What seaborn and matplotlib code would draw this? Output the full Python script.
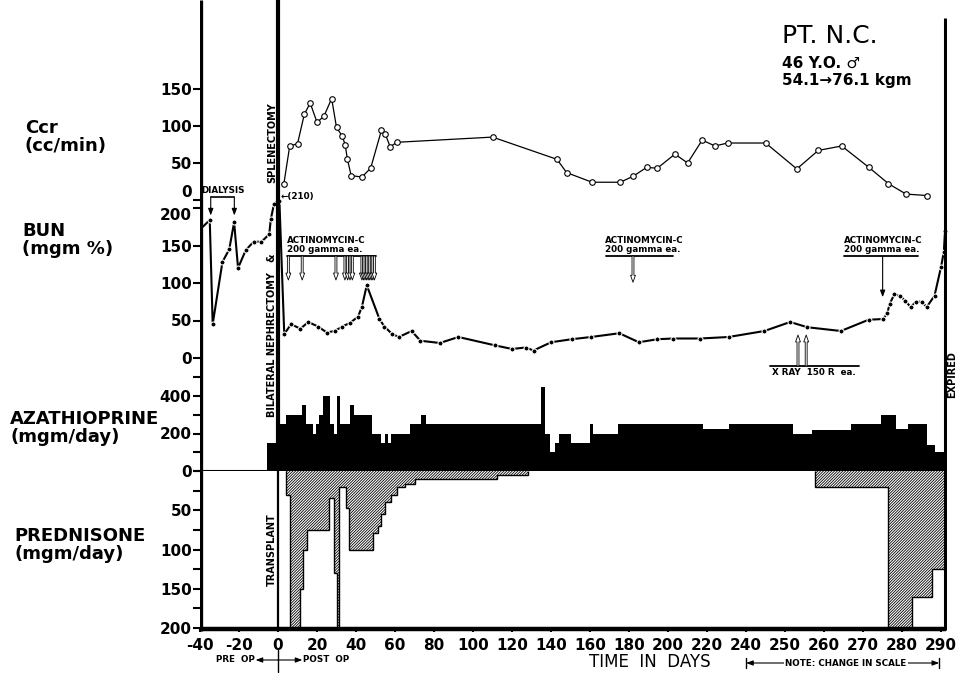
import numpy as np
import matplotlib
matplotlib.use('Agg')
import matplotlib.pyplot as plt
import seaborn as sns

sns.set_style('ticks')
plt.rcParams['font.family'] = ['DejaVu Sans']
plt.rcParams['font.weight'] = 'bold'
plt.rcParams['hatch.linewidth'] = 0.6
for key in ['text.color', 'axes.labelcolor', 'xtick.color', 'ytick.color', 'hatch.color']:
    plt.rcParams[key] = 'black'

###############################################################################
### DATA (days relative to transplant)
###############################################################################
ccr_day = [3, 6, 10, 13.5, 16.5, 20, 23.5, 27.5, 30, 33, 34.5, 35.5, 37.5, 43, 47.5,
           53, 55, 57.5, 61, 110, 143, 148, 161, 175.5, 182, 189, 194.5, 203.5, 210,
           217.5, 224, 230.5, 245, 253, 258.5, 264.5, 271.5, 276.5, 281, 286.5]
ccr_val = [22, 73, 76, 116, 131, 105, 113, 137, 98, 86, 74, 56, 33, 31, 43,
           94, 89, 72, 78, 85, 55, 37, 24, 24, 32, 44, 43, 62, 50,
           81, 73, 77, 77, 42, 67, 73, 44, 22, 8, 6]

bun_day = [-38.5, -35, -33.5, -28.5, -25, -22.5, -20.5, -16.5, -12.5, -8.5, -4.5, -3.7,
           -2, 0.7, 3.2, 6.7, 11.5, 15.5, 20.5, 25, 29, 33, 37, 41, 43, 45.5, 52, 54.5,
           58.5, 62, 68.5, 73, 83, 92.5, 111, 120, 127, 131, 140, 150.5, 160.5, 175,
           185, 194.5, 202.5, 216.5, 231, 244.7, 251.3, 255.7, 264.3, 271.4, 275.2,
           276.2, 276.8, 278, 279.5, 280.8, 282.2, 283.5, 285, 286.3, 288.3, 290, 290.7, 291]
bun_val = [175, 184, 45, 128, 145, 181, 120, 144, 155, 155, 165, 185,
           206, 210, 32, 45, 39, 48, 42, 34, 36, 42, 47, 55, 68, 97, 52, 42,
           32, 28, 36, 23, 20, 28, 17, 12, 14, 10, 21, 25, 28, 33,
           21, 25, 26, 26, 28, 36, 48, 41, 36, 51, 52,
           60, 72, 85, 83, 76, 68, 75, 75, 68, 83, 122, 142, 170]

aza_edges = [-5.5, 0, 4, 12.5, 14.5, 18, 19.5, 21, 23, 26.5, 28.5, 30, 32, 37, 39, 48, 53,
             55, 56.5, 58, 67.5, 73.5, 76, 135, 137, 139.5, 142, 144, 150, 160, 161.5,
             174.5, 218, 231, 252, 257, 267, 274.5, 278.5, 281.5, 286.5, 288.5, 291]
aza_dose = [150, 250, 300, 350, 250, 200, 250, 300, 400, 250, 200, 400, 250, 350, 300, 200,
            150, 200, 150, 200, 250, 300, 250, 450, 200, 100, 150, 200, 150, 250, 200,
            250, 225, 250, 200, 220, 250, 300, 225, 250, 140, 100]

pred_edges_1 = [4.3, 6.2, 11.5, 13, 15, 26.3, 28.9, 30, 31.5, 35, 36.5, 48.5, 51.5, 53,
                54.7, 58, 61, 65, 70, 112.5, 128]
pred_dose_1 = [30, 200, 150, 100, 75, 35, 130, 200, 20, 47, 100, 79, 70, 55, 40, 30, 20,
               17, 10, 5]
pred_edges_2 = [257.7, 276.3, 282.5, 287.6, 291.2]
pred_dose_2 = [20, 200, 160, 125]

actino_days_1 = [5.3, 12.4, 29.7, 34.3, 35.7, 36.9, 38.1, 43, 43.8, 44.6, 45.4, 46.2,
                 47, 47.8, 48.6, 49.4]
actino_day_2 = 182
actino_day_3 = 275
xray_days = [253.3, 255.4]
dialysis_days = [-34.5, -22.4]

x_ticks = [-40, -20, 0, 20, 40, 60, 80, 100, 120, 140, 160, 180, 200, 220, 240,
           250, 260, 270, 280, 290]
transplant_day = 0
expired_day = 291


###############################################################################
### LAYOUT HELPERS
###############################################################################
def fwd(d):
    d = np.asarray(d, dtype=float)
    return np.where(d <= 240, d, 240 + 2 * (d - 240))


def inv(u):
    u = np.asarray(u, dtype=float)
    return np.where(u <= 240, u, 240 + (u - 240) / 2)


W, H = 958, 673
fig = plt.figure(figsize=(W / 100, H / 100), dpi=100)


def fy(py):
    return 1 - py / H


L, R = 200 / W, 947 / W
XMIN, XMAX = -40, 291.5


def panel(y_top, y_bot):
    ax = fig.add_axes([L, fy(y_bot), R - L, (y_bot - y_top) / H])
    ax.set_xscale('function', functions=(fwd, inv))
    ax.patch.set_alpha(0)
    for s in ax.spines.values():
        s.set_visible(False)
    return ax


def style_y(ax):
    ax.set_xlim(XMIN, XMAX)
    ax.set_xticks([])
    ax.set_xlabel('')
    ax.set_ylabel('')
    ax.tick_params(axis='y', which='both', left=True, direction='out', length=5,
                   width=1.5, labelsize=11, pad=1)


ax_ccr = panel(52, 200)
ax_bun = panel(196.75, 376.75)
ax_aza = panel(377.25, 471)
ax_pred = panel(471, 628)

# Ccr
sns.lineplot(x=ccr_day, y=ccr_val, ax=ax_ccr, color='black', linewidth=0.9, marker='o',
             markersize=4, markerfacecolor='white', markeredgecolor='black',
             markeredgewidth=0.8, sort=False, estimator=None)
ax_ccr.set_ylim(0, 200)
style_y(ax_ccr)
ax_ccr.set_yticks([0, 50, 100, 150])
ax_ccr.get_yticklabels()[0].set_va('bottom')

# BUN
sns.lineplot(x=bun_day, y=bun_val, ax=ax_bun, color='black', linewidth=1.5, marker='o',
             markersize=3.6, markevery=list(range(1, len(bun_day))),
             sort=False, estimator=None)
ax_bun.set_ylim(-25, 215)
style_y(ax_bun)
ax_bun.set_yticks([0, 50, 100, 150, 200])
ax_bun.set_yticks([-25], minor=True)
ax_bun.get_yticklabels()[-1].set_va('top')

# azathioprine
ax_aza.stairs(aza_dose, aza_edges, baseline=0, fill=True, color='black')
ax_aza.axhline(0, color='black', lw=1.5)
ax_aza.set_ylim(0, 500)
style_y(ax_aza)
ax_aza.set_yticks([0, 200, 400])
ax_aza.set_yticks([100, 300], minor=True)

# prednisone (axis runs downward)
for edges, dose in [(pred_edges_1, pred_dose_1), (pred_edges_2, pred_dose_2)]:
    ax_pred.stairs(dose, edges, baseline=0, fill=True, facecolor='white',
                   edgecolor='black', hatch='/' * 12, lw=0)
    ax_pred.stairs(dose, edges, baseline=0, fill=False, color='black', lw=1)
ax_pred.set_ylim(200, 0)
style_y(ax_pred)
ax_pred.set_yticks([0, 50, 100, 150, 200])
ax_pred.set_yticklabels(['', '50', '100', '150', '200'])
ax_pred.set_yticks([25, 75, 125, 175], minor=True)
ax_pred.set_xticks(x_ticks)
ax_pred.set_xticklabels([str(t) for t in x_ticks])
ax_pred.tick_params(axis='x', bottom=True, direction='out', length=3, width=1.5,
                    labelsize=11, pad=4)

# --- BUN panel annotations
small = dict(fontsize=6.3, fontweight='bold')
dbl = dict(arrowstyle='simple,head_width=0.35,head_length=0.5,tail_width=0.14',
           fc='white', ec='black', lw=0.6, shrinkA=0, shrinkB=0)
one = dict(arrowstyle='-|>,head_width=0.15,head_length=0.4', color='black', lw=0.8,
           shrinkA=0, shrinkB=0)

ax_bun.text(4.5, 139, 'ACTINOMYCIN-C\n200 gamma ea.', va='bottom', linespacing=1.0, **small)
ax_bun.plot([4.8, 50], [136, 136], color='black', lw=1.3)
for d in actino_days_1:
    ax_bun.annotate('', xy=(d, 104), xytext=(d, 136), arrowprops=dbl)

ax_bun.text(167.5, 139, 'ACTINOMYCIN-C\n200 gamma ea.', va='bottom', linespacing=1.0, **small)
ax_bun.plot([168, 202.5], [136, 136], color='black', lw=1.3)
ax_bun.annotate('', xy=(actino_day_2, 101), xytext=(actino_day_2, 136), arrowprops=dbl)

ax_bun.text(265, 139, 'ACTINOMYCIN-C\n200 gamma ea.', va='bottom', linespacing=1.0, **small)
ax_bun.plot([265, 284], [136, 136], color='black', lw=1.3)
ax_bun.annotate('', xy=(actino_day_3, 81), xytext=(actino_day_3, 136), arrowprops=one)

ax_bun.plot([246, 269], [-10.7, -10.7], color='black', lw=1.3)
for d in xray_days:
    ax_bun.annotate('', xy=(d, 30.7), xytext=(d, -10.7), arrowprops=dbl)
ax_bun.text(257.5, -13, 'X RAY  150 R  ea.', ha='center', va='top', clip_on=False, **small)

ax_bun.plot([dialysis_days[0], dialysis_days[1]], [214.7, 214.7], color='black', lw=1.2,
            clip_on=False)
for d in dialysis_days:
    ax_bun.annotate('', xy=(d, 190), xytext=(d, 214.7), arrowprops=one,
                    annotation_clip=False)
ax_bun.text(-28, 218, 'DIALYSIS', ha='center', va='bottom', clip_on=False, **small)
ax_bun.text(1.2, 216, '\u2190(210)', ha='left', va='center', clip_on=False, **small)

# --- frame: thick event lines and outer labels
fr = fig.add_axes([L, 0, R - L, 1])
fr.set_xscale('function', functions=(fwd, inv))
fr.set_xlim(XMIN, XMAX)
fr.set_ylim(0, 1)
fr.axis('off')
fr.patch.set_alpha(0)

fr.plot([-40, -40], [fy(631), 1], color='black', lw=3.8, solid_capstyle='butt')
fr.plot([transplant_day] * 2, [fy(471), 1], color='black', lw=3, solid_capstyle='butt')
fr.plot([transplant_day] * 2, [fy(630), fy(471)], color='black', lw=1.6, solid_capstyle='butt')
fr.plot([expired_day] * 2, [fy(630), fy(18)], color='black', lw=2.2, solid_capstyle='butt')
fr.plot([-40, expired_day + 0.3], [fy(628.5)] * 2, color='black', lw=3.2, solid_capstyle='butt')

vert = dict(rotation=90, ha='center', va='center', fontsize=7, fontweight='bold')
fr.text(-3.2, fy(143), 'SPLENECTOMY', **vert)
fr.text(-3.2, fy(335), 'BILATERAL NEPHRECTOMY   &', **vert)
fr.text(-3.2, fy(550), 'TRANSPLANT', **vert)
fr.text(292.8, fy(375), 'EXPIRED', clip_on=False, **vert)

# pre / post op marker under the axis
yb = fy(660)
fr.text(-12, yb, 'PRE  OP', ha='right', va='center', **small)
fr.text(13, yb, 'POST  OP', ha='left', va='center', **small)
fr.annotate('', xy=(-11.5, yb), xytext=(0, yb), arrowprops=one)
fr.annotate('', xy=(12.5, yb), xytext=(0, yb), arrowprops=one)
fr.plot([0, 0], [fy(650), fy(672)], color='black', lw=1)

# change in scale note
yn = fy(663)
fr.annotate('', xy=(240, yn), xytext=(289.5, yn),
            arrowprops=dict(arrowstyle='<|-|>,head_width=0.15,head_length=0.4',
                            color='black', lw=0.8, shrinkA=0, shrinkB=0))
fr.plot([240, 240], [yn - 0.008, yn + 0.008], color='black', lw=1)
fr.plot([289.5, 289.5], [yn - 0.008, yn + 0.008], color='black', lw=1)
fr.text(265.5, yn, 'NOTE: CHANGE IN SCALE', ha='center', va='center',
        bbox=dict(fc='white', ec='none', pad=1), **small)

fig.text(650 / W, fy(662), 'TIME  IN  DAYS', ha='center', va='center', fontsize=12,
         fontweight='normal')

# left labels
lab = dict(fontsize=13, va='center', ha='left', linespacing=1.05)
fig.text(25 / W, fy(137), 'Ccr\n(cc/min)', **lab)
fig.text(22 / W, fy(240), 'BUN\n(mgm %)', **lab)
fig.text(10 / W, fy(428), 'AZATHIOPRINE\n(mgm/day)', **lab)
fig.text(14 / W, fy(545), 'PREDNISONE\n(mgm/day)', **lab)

# patient block
fig.text(782 / W, fy(36), 'PT. N.C.', fontsize=18, fontweight='normal', va='center')
fig.text(782 / W, fy(63), '46 Y.O. \u2642', fontsize=11, va='center')
fig.text(782 / W, fy(80), '54.1\u219276.1 kgm', fontsize=11, va='center')

fig.savefig('out.png', dpi=100)
